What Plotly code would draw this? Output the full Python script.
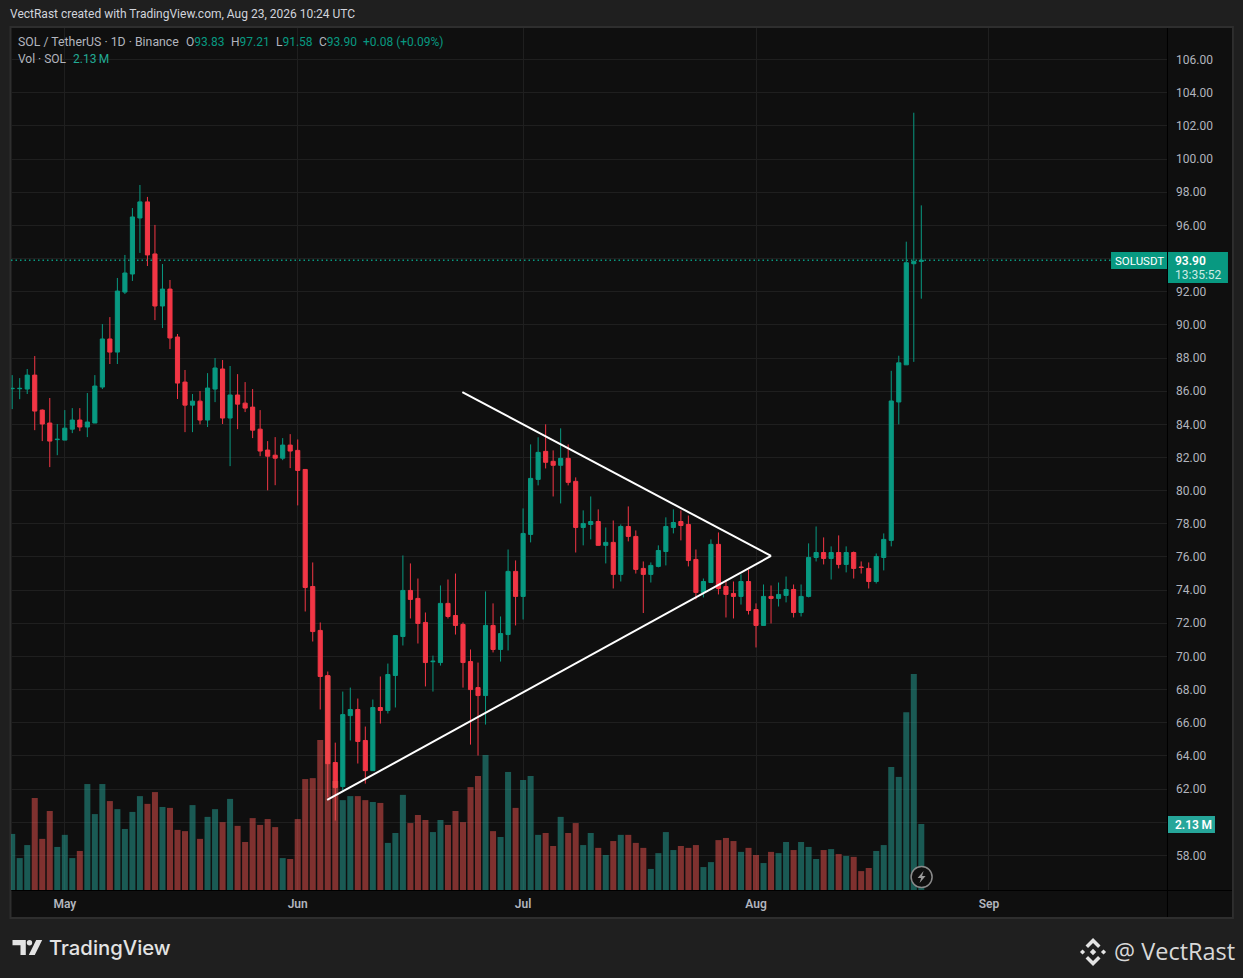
"""SOL / TetherUS daily candles with volume and a hand drawn triangle."""

import pandas as pd
import plotly.graph_objects as go

# Daily candles, 2026-04-24 to 2026-08-23
first_day = "2026-04-24"

opens = [
    86.15, 86.15, 86.13, 86.97, 84.86, 84.08, 83.08, 83.05, 83.71, 84.26,
    83.84, 84.08, 86.25, 89.15, 88.36, 91.98, 93.07, 96.45, 97.42, 94.28,
    91.14, 92.16, 89.27, 86.55, 85.16, 85.40, 84.26, 86.13, 87.34, 84.38,
    85.77, 85.28, 85.04, 83.71, 82.45, 82.14, 81.96, 82.75, 82.43, 81.28,
    74.22, 71.57, 68.85, 63.60, 62.15, 66.43, 66.80, 64.93, 63.11, 66.92,
    66.74, 68.85, 71.20, 73.98, 73.50, 72.05, 69.68, 69.63, 73.20, 72.47,
    71.93, 69.69, 68.12, 67.64, 71.87, 70.42, 71.32, 75.13, 73.62, 77.36,
    80.68, 82.37, 81.77, 81.53, 81.95, 80.56, 77.78, 77.96, 78.14, 76.70,
    76.88, 74.95, 77.84, 77.24, 75.31, 74.95, 75.43, 76.33, 77.78, 78.14,
    77.96, 75.85, 73.86, 74.46, 76.76, 74.22, 73.80, 73.62, 74.52, 72.83,
    71.87, 73.62, 73.50, 73.68, 74.04, 72.65, 73.62, 75.97, 76.27, 75.91,
    76.27, 75.55, 76.27, 75.39, 75.31, 74.52, 75.97, 77.00, 85.35, 87.59,
    93.69, 93.83,
]
highs = [
    86.97, 86.79, 87.34, 88.12, 84.90, 85.59, 84.02, 84.86, 84.98, 84.98,
    85.89, 86.97, 90.05, 90.47, 92.83, 94.22, 97.05, 98.44, 97.72, 96.03,
    93.67, 92.71, 89.45, 87.28, 85.83, 86.01, 87.09, 88.00, 87.88, 87.52,
    87.03, 86.55, 86.13, 84.86, 82.99, 83.23, 83.17, 83.41, 83.09, 81.30,
    75.67, 72.05, 69.09, 64.80, 67.88, 68.12, 67.46, 65.77, 67.40, 68.79,
    69.57, 71.26, 76.09, 75.61, 74.70, 72.65, 70.05, 74.28, 74.64, 75.00,
    72.05, 70.42, 69.63, 73.92, 73.20, 72.41, 76.45, 75.79, 78.93, 82.79,
    83.22, 84.00, 82.43, 83.76, 82.79, 80.80, 78.81, 79.65, 78.87, 77.78,
    78.20, 77.96, 79.05, 77.60, 75.73, 75.67, 76.70, 78.39, 78.87, 78.81,
    78.50, 76.45, 74.70, 77.06, 77.48, 74.58, 74.52, 74.95, 75.25, 73.20,
    74.34, 74.28, 74.46, 74.82, 74.34, 74.34, 76.82, 77.84, 77.18, 76.64,
    77.30, 76.64, 76.33, 75.73, 75.67, 76.21, 77.42, 87.23, 88.14, 95.02,
    102.80, 97.21,
]
lows = [
    84.92, 85.52, 85.83, 83.65, 82.99, 81.42, 82.14, 83.05, 83.47, 83.59,
    83.23, 84.08, 86.13, 87.64, 87.64, 91.86, 92.65, 94.34, 93.55, 90.29,
    89.81, 88.54, 85.53, 83.53, 83.53, 84.00, 83.84, 85.34, 84.02, 81.48,
    83.71, 84.74, 83.17, 82.08, 80.02, 80.33, 81.84, 81.36, 79.11, 72.71,
    70.90, 66.80, 61.50, 60.10, 61.90, 64.93, 63.54, 62.33, 63.11, 65.95,
    66.56, 66.92, 70.66, 72.29, 70.78, 68.19, 67.88, 69.45, 72.29, 71.32,
    68.12, 64.68, 64.02, 65.89, 70.24, 69.69, 70.36, 71.87, 72.23, 76.88,
    80.32, 81.34, 79.65, 79.23, 80.32, 76.27, 76.70, 77.06, 76.70, 75.61,
    74.10, 74.52, 76.94, 75.00, 72.62, 74.46, 75.37, 75.49, 77.42, 77.00,
    75.43, 73.44, 73.56, 74.46, 73.74, 72.35, 72.29, 73.13, 72.53, 70.54,
    71.87, 71.99, 73.01, 73.26, 72.35, 72.41, 73.56, 75.73, 75.55, 74.64,
    75.31, 75.07, 74.70, 75.00, 74.10, 74.40, 75.19, 76.64, 84.00, 87.59,
    87.77, 91.58,
]
closes = [
    86.17, 86.17, 86.97, 84.80, 84.02, 82.99, 83.10, 83.77, 84.26, 83.84,
    84.14, 86.31, 89.15, 88.36, 92.04, 93.13, 96.51, 97.42, 94.22, 91.14,
    92.16, 89.21, 86.49, 85.16, 85.40, 84.26, 86.19, 87.40, 84.38, 85.77,
    85.22, 84.98, 83.65, 82.39, 82.08, 81.96, 82.75, 82.39, 81.22, 74.16,
    71.50, 68.79, 63.53, 62.09, 66.49, 66.80, 64.87, 63.11, 66.92, 66.74,
    68.91, 71.26, 73.98, 73.44, 71.99, 69.63, 69.71, 73.20, 72.41, 71.87,
    69.63, 68.00, 67.64, 71.87, 70.42, 71.38, 75.13, 73.62, 77.42, 80.74,
    82.31, 81.71, 81.53, 81.95, 80.50, 77.78, 78.02, 78.14, 76.70, 76.88,
    74.95, 77.84, 77.24, 75.25, 74.95, 75.49, 76.39, 77.84, 78.08, 77.90,
    75.79, 73.86, 74.52, 76.76, 74.10, 73.74, 73.62, 74.52, 72.77, 71.87,
    73.62, 73.50, 73.74, 74.04, 72.65, 73.62, 75.97, 76.27, 75.91, 76.27,
    75.55, 76.27, 75.31, 75.37, 74.52, 76.03, 77.06, 85.41, 87.71, 93.75,
    93.82, 93.90,
]
# volume in millions of SOL
volumes = [
    1.81, 1.03, 1.45, 2.97, 1.65, 2.55, 1.39, 1.78, 1.03, 1.26,
    3.42, 2.45, 3.42, 2.87, 2.61, 1.97, 2.52, 3.03, 2.78, 3.16,
    2.68, 2.65, 1.94, 1.90, 2.74, 1.65, 2.36, 2.61, 2.19, 2.94,
    2.07, 1.55, 2.32, 2.10, 2.29, 2.03, 1.03, 1.00, 2.29, 3.58,
    3.61, 4.84, 6.91, 3.52, 2.90, 3.03, 3.03, 2.90, 2.84, 2.81,
    1.52, 1.84, 3.07, 2.16, 2.42, 2.26, 1.87, 2.26, 2.10, 2.55,
    2.19, 3.32, 3.68, 4.36, 1.90, 1.71, 3.81, 2.65, 3.55, 3.68,
    1.78, 1.84, 1.42, 2.36, 1.84, 2.16, 1.45, 1.84, 1.36, 1.13,
    1.58, 1.78, 1.78, 1.52, 1.36, 0.68, 1.19, 1.87, 1.29, 1.42,
    1.36, 1.45, 0.74, 0.90, 1.61, 1.68, 1.58, 1.23, 1.36, 1.13,
    0.87, 1.23, 1.19, 1.55, 1.29, 1.55, 1.39, 1.00, 1.29, 1.32,
    1.16, 1.10, 1.07, 0.61, 0.71, 1.26, 1.45, 3.97, 3.65, 5.74,
    6.97, 2.13,
]

price_ticks = list(range(58, 108, 2))
hidden_ticks = [60, 94]  # covered by the last value labels
month_ticks = ["2026-05-01", "2026-06-01", "2026-07-01", "2026-08-01", "2026-09-01"]
month_labels = ["May", "Jun", "Jul", "Aug", "Sep"]

# hand drawn triangle
upper_line_x = ["2026-06-22 21:50", "2026-08-03 00:00"]
upper_line_y = [85.95, 76.06]
lower_line_x = ["2026-06-04 22:00", "2026-08-03 00:00"]
lower_line_y = [61.34, 76.06]

last_price = 93.90
view_x = ["2026-04-23 20:10", "2026-09-24 16:50"]
price_range = [55.91, 107.91]
volume_range = [0, 27.82]

UP = "#089981"
DOWN = "#f23645"
UP_VOL = "rgba(38,166,154,0.5)"
DOWN_VOL = "rgba(239,83,80,0.5)"
PANEL = "#0f0f0f"
PAGE = "#1f1f1f"
BORDER = "#2e2e2e"
GRID = "#1f1f1f"
TEXT = "#b2b5be"
FONT = "Roboto"

WIDTH, HEIGHT = 1243, 978
LEFT, RIGHT, TOP, BOTTOM = 10.5, 1167, 28, 890


def px(x):
    return (x - LEFT) / (RIGHT - LEFT)


def py(y):
    return (BOTTOM - y) / (BOTTOM - TOP)


def paper_path(points):
    """Closed path from page pixels, in paper coordinates."""
    parts = [f"{px(x):.5f},{py(y):.5f}" for x, y in points]
    return "M" + " L".join(parts) + " Z"


def label(x, y, text, color=TEXT, size=12, **kwargs):
    # annotations sit about a pixel and a half right of their anchor
    return dict(
        x=px(x - 1.5), y=py(y), xref="paper", yref="paper", text=text, showarrow=False,
        xanchor=kwargs.pop("xanchor", "left"), yanchor="middle", borderpad=0,
        font=dict(family=kwargs.pop("family", FONT), size=size, color=color,
                  weight=kwargs.pop("weight", "normal")),
    )


days = pd.date_range(first_day, periods=len(closes), freq="D")
vol_colors = [UP_VOL if c >= o else DOWN_VOL for o, c in zip(opens, closes)]

fig = go.Figure()
fig.add_trace(go.Candlestick(
    x=days, open=opens, high=highs, low=lows, close=closes,
    increasing=dict(line=dict(color=UP, width=1), fillcolor=UP),
    decreasing=dict(line=dict(color=DOWN, width=1), fillcolor=DOWN),
    whiskerwidth=0, name="SOLUSDT", yaxis="y",
))
# second axis draws above the candles, as it does on the original
fig.add_trace(go.Bar(
    x=days, y=volumes, marker=dict(color=vol_colors, line=dict(width=0)),
    name="Vol", yaxis="y2",
))

shapes = [
    # panel and frame
    dict(type="rect", xref="paper", yref="paper", layer="below",
         x0=px(10), x1=px(1233), y0=py(918), y1=py(27),
         fillcolor=PANEL, line=dict(color=BORDER, width=2)),
    dict(type="line", xref="paper", yref="paper", layer="above",
         x0=px(1167.5), x1=px(1167.5), y0=py(917), y1=py(28), line=dict(color="#000000", width=1)),
    dict(type="line", xref="paper", yref="paper", layer="above",
         x0=px(11), x1=px(1232), y0=py(890.5), y1=py(890.5), line=dict(color="#000000", width=1)),
    # last price
    dict(type="line", xref="paper", yref="y", layer="below",
         x0=0, x1=1, y0=last_price, y1=last_price, line=dict(color=UP, width=1.5, dash="1.5px,3px")),
    # triangle
    dict(type="line", xref="x", yref="y", layer="above", x0=upper_line_x[0], x1=upper_line_x[1],
         y0=upper_line_y[0], y1=upper_line_y[1], line=dict(color="#ffffff", width=2)),
    dict(type="line", xref="x", yref="y", layer="above", x0=lower_line_x[0], x1=lower_line_x[1],
         y0=lower_line_y[0], y1=lower_line_y[1], line=dict(color="#ffffff", width=2)),
    # value labels on the price scale
    dict(type="rect", xref="paper", yref="paper", x0=px(1111), x1=px(1167), y0=py(269), y1=py(252),
         fillcolor=UP, line=dict(width=0)),
    dict(type="rect", xref="paper", yref="paper", x0=px(1168), x1=px(1228), y0=py(283), y1=py(252),
         fillcolor=UP, line=dict(width=0)),
    dict(type="rect", xref="paper", yref="paper", x0=px(1168), x1=px(1215), y0=py(833), y1=py(816),
         fillcolor="#26a69a", line=dict(width=0)),
    # lightning badge
    dict(type="circle", xref="paper", yref="paper", x0=px(911), x1=px(932), y0=py(887.5), y1=py(866.5),
         fillcolor=PANEL, line=dict(color="#8a8a8a", width=1.5)),
    dict(type="path", xref="paper", yref="paper", fillcolor="#9a9a9a", line=dict(width=0),
         path=paper_path([(923.5, 871), (917.5, 878), (921, 878), (919.5, 883), (925.5, 876), (922, 876)])),
    # TradingView mark
    dict(type="path", xref="paper", yref="paper", fillcolor="#e3e3e3", line=dict(width=0),
         path=paper_path([(12, 940), (25.3, 940), (25.3, 955), (20, 955), (20, 945.3), (12, 945.3)])),
    dict(type="circle", xref="paper", yref="paper", x0=px(26.3), x1=px(31.7), y0=py(945.4), y1=py(940),
         fillcolor="#e3e3e3", line=dict(width=0)),
    dict(type="path", xref="paper", yref="paper", fillcolor="#e3e3e3", line=dict(width=0),
         path=paper_path([(35.7, 940), (41.7, 940), (34.3, 955), (28.3, 955)])),
]

# Binance mark, four chevrons round a centre diamond
cx, cy = 1093, 952
for dx, dy in [(0, 0), (-10.5, 0), (10.5, 0)]:
    r = 3.2 if dx == 0 else 2.6
    shapes.append(dict(
        type="path", xref="paper", yref="paper", fillcolor="#e3e3e3", line=dict(width=0),
        path=paper_path([(cx + dx, cy - r), (cx + dx + r, cy), (cx + dx, cy + r), (cx + dx - r, cy)]),
    ))
for sign in (-1, 1):
    shapes.append(dict(
        type="path", xref="paper", yref="paper", fillcolor="#e3e3e3", line=dict(width=0),
        path=paper_path([
            (cx, cy + sign * 14), (cx + 7.5, cy + sign * 6.5), (cx + 5, cy + sign * 4),
            (cx, cy + sign * 9), (cx - 5, cy + sign * 4), (cx - 7.5, cy + sign * 6.5),
        ]),
    ))

annotations = [
    label(10, 14, "VectRast created with TradingView.com, Aug 23, 2026 10:24 UTC", color="#d1d4dc"),
    label(18, 42, "SOL / TetherUS · 1D · Binance", size=12.3),
    label(186, 42, f'O<span style="color:{UP}">93.83</span>'),
    label(231, 42, f'H<span style="color:{UP}">97.21</span>'),
    label(276, 42, f'L<span style="color:{UP}">91.58</span>'),
    label(319, 42, f'C<span style="color:{UP}">93.90</span>'),
    label(363, 42, "+0.08 (+0.09%)", color=UP),
    label(18, 59, "Vol · SOL"),
    label(73, 59, "2.13\u2009M", color="#22ab94"),
    label(1115, 260.5, "SOLUSDT", color="#ffffff", size=11.5),
    label(1176, 260.5, "93.90", color="#ffffff", weight=600),
    label(1176, 275, "13:35:52", color="#cdebe5"),
    label(1176, 824.5, "2.13\u2009M", color="#ffffff", weight=600),
    label(49, 948, "TradingView", color="#e3e3e3", size=20.3, family="Inter", weight=500),
    label(1114, 951, "@ VectRast", color="#d8d8d8", size=23.5, family="Open Sans"),
]

fig.update_layout(
    width=WIDTH, height=HEIGHT, autosize=False,
    margin=dict(l=LEFT, r=WIDTH - RIGHT, t=TOP, b=HEIGHT - BOTTOM, pad=0),
    paper_bgcolor=PAGE, plot_bgcolor="rgba(0,0,0,0)",
    showlegend=False, boxgap=0.45, boxgroupgap=0, bargap=0.2,
    font=dict(family=FONT, size=12, color=TEXT),
    xaxis=dict(
        type="date", range=view_x, rangeslider=dict(visible=False),
        tickmode="array", tickvals=month_ticks, ticktext=month_labels,
        showgrid=True, gridcolor=GRID, gridwidth=1, zeroline=False, showline=False,
        ticks="", ticklabelstandoff=5, tickfont=dict(size=12, color=TEXT, weight=600),
    ),
    yaxis=dict(
        side="right", range=price_range, tickmode="array", tickvals=price_ticks,
        ticktext=["" if t in hidden_ticks else f"{t:.2f}" for t in price_ticks],
        showgrid=True, gridcolor=GRID, gridwidth=1, zeroline=False, showline=False,
        ticks="", ticklabelstandoff=8, tickfont=dict(size=12, color=TEXT),
    ),
    yaxis2=dict(
        overlaying="y", side="left", range=volume_range, visible=False,
        showgrid=False, zeroline=False,
    ),
    shapes=shapes,
    annotations=annotations,
)

fig.write_html(
    "out.html",
    config={"displayModeBar": False},
    post_script="document.body.style.margin='0';",
)
